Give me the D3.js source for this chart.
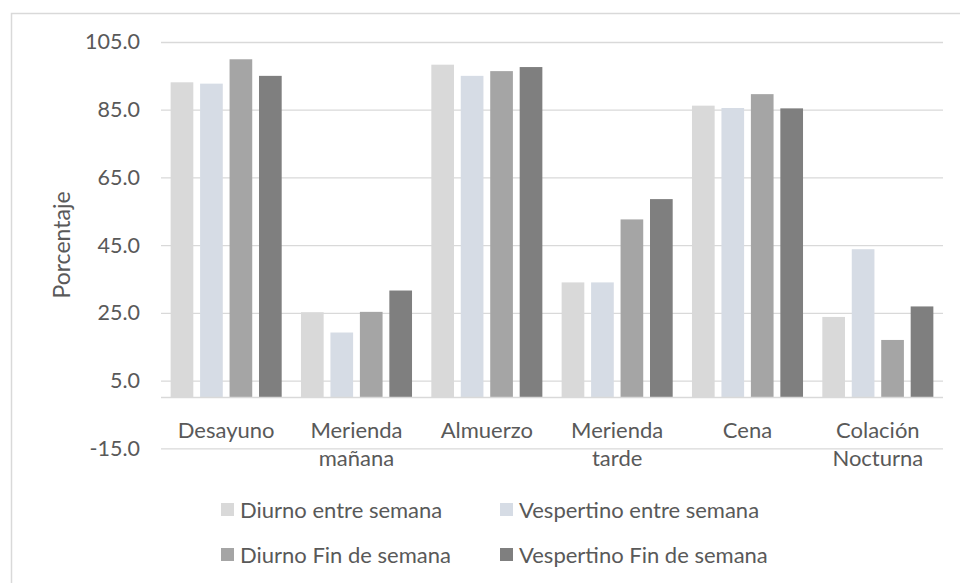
<!DOCTYPE html>
<html>
<head>
<meta charset="utf-8">
<script src="https://cdn.jsdelivr.net/npm/d3@7"></script>
<style>
  body { margin: 0; background: #fff; }
  text { font-family: Lato, "Open Sans", sans-serif; fill: #595959; }
</style>
</head>
<body>
<div id="chart"></div>
<script>
// meal categories and series
var categories = ["Desayuno", "Merienda mañana", "Almuerzo", "Merienda tarde", "Cena", "Colación Nocturna"];
var series = ["Diurno entre semana", "Vespertino entre semana", "Diurno Fin de semana", "Vespertino Fin de semana"];
var colors = ["#d9d9d9", "#d6dce5", "#a5a5a5", "#7f7f7f"];

var diurnoSemana      = [93.1, 25.2, 98.3, 34.0, 86.2, 23.8];
var vespertinoSemana  = [92.7, 19.2, 95.0, 34.0, 85.5, 43.8];
var diurnoFinde       = [99.9, 25.3, 96.4, 52.6, 89.6, 17.0];
var vespertinoFinde   = [95.0, 31.6, 97.6, 58.6, 85.4, 26.9];
var values = [diurnoSemana, vespertinoSemana, diurnoFinde, vespertinoFinde];

var yTicks = [-15, 5, 25, 45, 65, 85, 105];

var W = 960, H = 583;
var plot = { left: 161, right: 943, top: 42, bottom: 448.3 };

var svg = d3.select('#chart').append('svg')
    .attr('width', W)
    .attr('height', H);

// chart frame
svg.append('rect')
    .attr('x', 11.5).attr('y', 13.5)
    .attr('width', W + 20).attr('height', H + 20)
    .attr('fill', 'none')
    .attr('stroke', '#d9d9d9')
    .attr('stroke-width', 1.5);

var y = d3.scaleLinear().domain([-15, 105]).range([plot.bottom, plot.top]);

var x0 = d3.scaleBand()
    .domain(categories)
    .range([plot.left, plot.right])
    .paddingInner(0.148)
    .paddingOuter(0.074);

var x1 = d3.scaleBand()
    .domain(d3.range(series.length))
    .range([0, x0.bandwidth()])
    .paddingInner(0.23);

// gridlines + tick labels (plain hyphen for negatives, like the original)
var fmt = d3.format('.1f');
var yAxis = d3.axisLeft(y)
    .tickValues(yTicks)
    .tickFormat(function(d){ return fmt(d).replace('\u2212', '-'); })
    .tickSize(-(plot.right - plot.left))
    .tickPadding(21);

var gy = svg.append('g')
    .attr('transform', 'translate(' + plot.left + ',0)')
    .call(yAxis);
gy.select('.domain').remove();
gy.selectAll('line').attr('stroke', '#d9d9d9').attr('stroke-width', 1.3);
gy.selectAll('text')
    .style('font-size', '21.5px')
    .attr('fill', '#595959');

// bars
var groups = svg.selectAll('.grp')
    .data(categories)
    .enter().append('g')
    .attr('class', 'grp')
    .attr('transform', function(d){ return 'translate(' + x0(d) + ',0)'; });

groups.selectAll('rect')
    .data(function(d, i){ return values.map(function(s, k){ return { k: k, v: s[i] }; }); })
    .enter().append('rect')
    .attr('x', function(d){ return x1(d.k); })
    .attr('width', x1.bandwidth())
    .attr('y', function(d){ return y(d.v); })
    .attr('height', function(d){ return y(0) - y(d.v); })
    .attr('fill', function(d){ return colors[d.k]; });

// category axis at zero
svg.append('line')
    .attr('x1', plot.left).attr('x2', plot.right)
    .attr('y1', y(0)).attr('y2', y(0))
    .attr('stroke', '#d9d9d9')
    .attr('stroke-width', 1.3);

var xLabels = svg.selectAll('.xl')
    .data(categories)
    .enter().append('text')
    .attr('class', 'xl')
    .attr('text-anchor', 'middle')
    .style('font-size', '22px');

xLabels.each(function(d){
    var words = d.split(' ');
    var t = d3.select(this);
    words.forEach(function(w, i){
        t.append('tspan')
            .attr('x', x0(d) + x0.bandwidth() / 2)
            .attr('y', y(0) + 40 + i * 28)
            .text(w);
    });
});

// y axis title
svg.append('text')
    .attr('transform', 'translate(70,245) rotate(-90)')
    .attr('text-anchor', 'middle')
    .style('font-size', '23px')
    .text('Porcentaje');

// legend
var legX = [221, 500], legY = [510, 555];
var leg = svg.selectAll('.leg')
    .data(series)
    .enter().append('g')
    .attr('class', 'leg')
    .attr('transform', function(d, i){ return 'translate(' + legX[i % 2] + ',' + legY[Math.floor(i / 2)] + ')'; });

leg.append('rect')
    .attr('x', 0).attr('y', -7)
    .attr('width', 13).attr('height', 13)
    .attr('fill', function(d, i){ return colors[i]; });

leg.append('text')
    .attr('x', 19)
    .attr('y', 0)
    .attr('dy', '0.35em')
    .style('font-size', '22px')
    .text(function(d){ return d; });
</script>
</body>
</html>
